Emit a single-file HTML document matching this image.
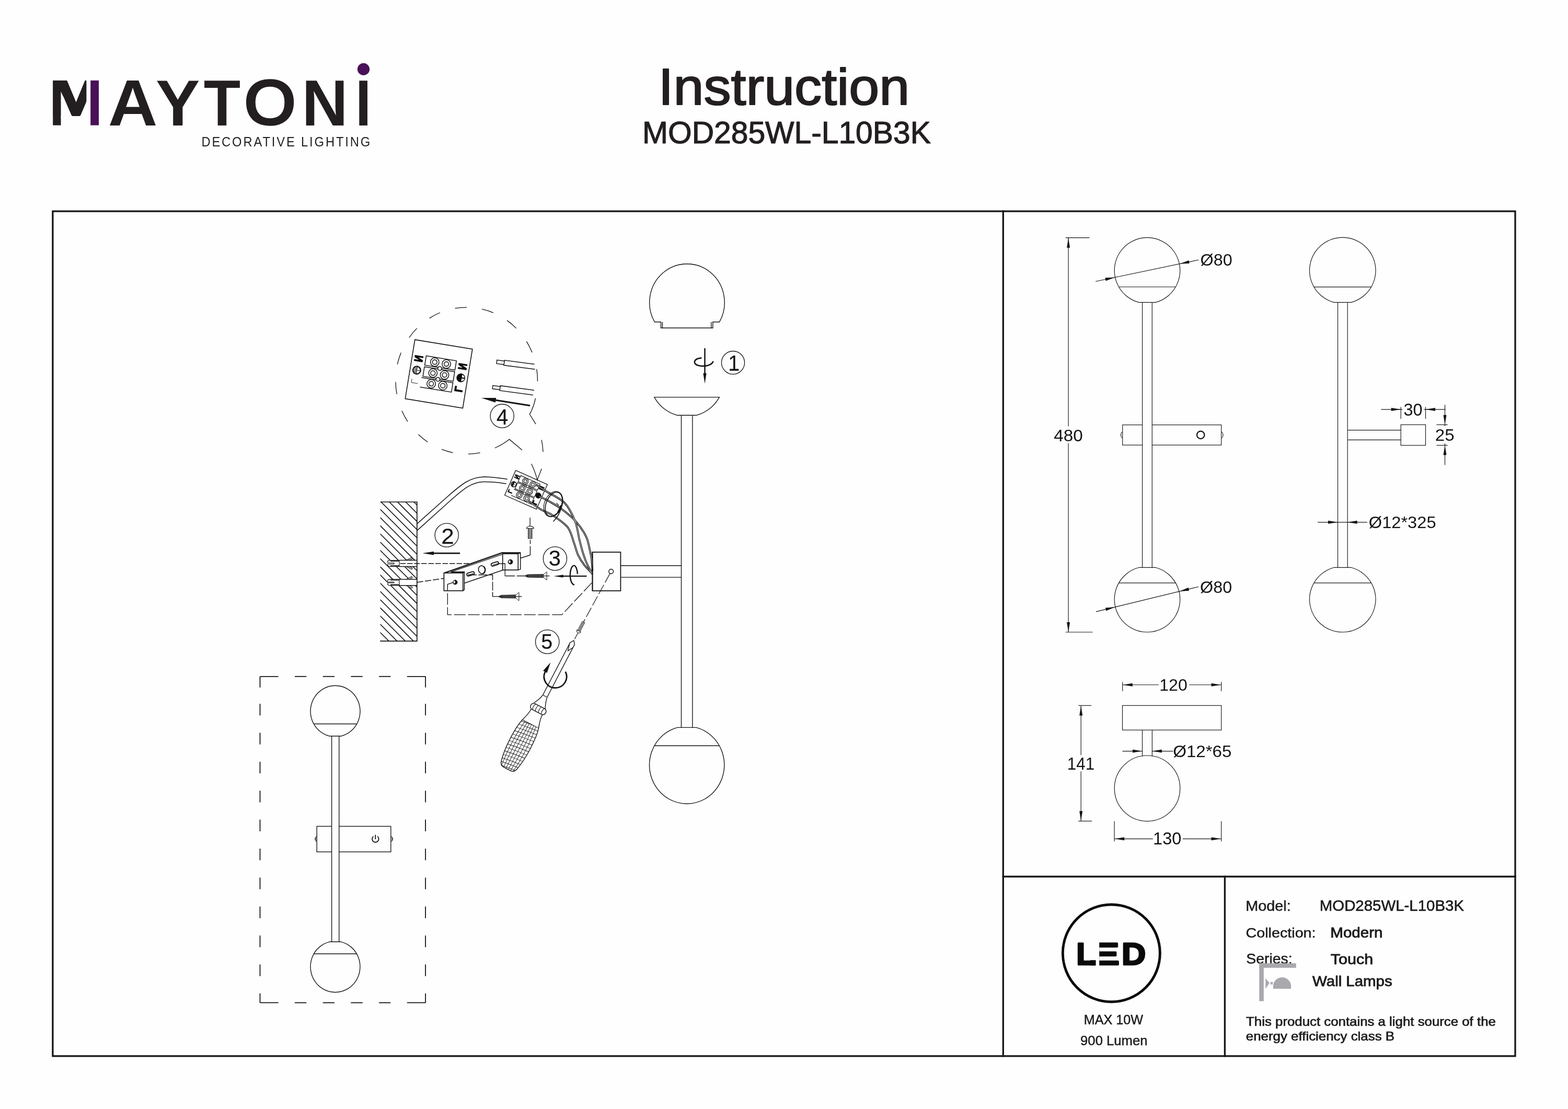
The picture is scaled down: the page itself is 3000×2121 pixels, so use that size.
<!DOCTYPE html>
<html lang="en">
<head>
<meta charset="utf-8">
<title>Instruction MOD285WL-L10B3K</title>
<style>
html,body{margin:0;padding:0;background:#fefefe;}
body{width:3000px;height:2121px;overflow:hidden;}
svg{display:block;will-change:transform;}
svg text{font-family:"Liberation Sans",sans-serif;}
.ln .ah{fill:#141414;stroke:none;}
.ln .wf{fill:#fefefe;stroke:none;}
.ln line,.ln polyline,.ln polygon:not(.ah),.ln circle,.ln rect:not(.wf),.ln path,.ln ellipse{fill:none;stroke:#141414;stroke-width:1.15;}
.lm line,.lm polyline,.lm polygon:not(.ah),.lm circle,.lm rect:not(.wf),.lm path,.lm ellipse{stroke-width:1.38;}
</style>
</head>
<body>
<svg width="3000" height="2121" viewBox="0 0 3000 2121">
<rect x="0" y="0" width="3000" height="2121" fill="#fefefe"/>
<g fill="none" stroke="#161616" stroke-width="3.3" stroke-linecap="square">
<rect x="100.9" y="404.05" width="2798.1" height="1615.75"/>
<line x1="1919.3" y1="404" x2="1919.3" y2="2019.8"/>
<line x1="1919.3" y1="1676.5" x2="2899" y2="1676.5"/>
<line x1="2343.4" y1="1676.5" x2="2343.4" y2="2019.8"/>
</g>
<g>
<text fill="#231f20" stroke="none"><tspan x="93.41" y="219.6" font-size="94.06" font-weight="bold" stroke="#231f20" stroke-width="4" stroke-linejoin="round" textLength="103.65" lengthAdjust="spacingAndGlyphs">M</tspan><tspan x="206.82" y="239.6" font-size="124.2" font-weight="bold" textLength="94.64" lengthAdjust="spacingAndGlyphs">A</tspan><tspan x="297.97" y="239.6" font-size="124.2" font-weight="bold" textLength="84.49" lengthAdjust="spacingAndGlyphs">Y</tspan><tspan x="389.85" y="240.23" font-size="125.11" font-weight="bold" textLength="70.4" lengthAdjust="spacingAndGlyphs">T</tspan><tspan x="467.98" y="237.32" font-size="118.17" font-weight="normal" stroke="#231f20" stroke-width="5.6" stroke-linejoin="round" textLength="97.21" lengthAdjust="spacingAndGlyphs">O</tspan><tspan x="577.47" y="239.6" font-size="124.2" font-weight="bold" textLength="88.13" lengthAdjust="spacingAndGlyphs">N</tspan><tspan x="680.02" y="239.6" font-size="124.2" font-weight="bold" textLength="30.28" lengthAdjust="spacingAndGlyphs">I</tspan></text>
<rect x="101.1" y="153.9" width="15.4" height="85.7" fill="#231f20"/>
<rect x="165.4" y="148" width="28" height="96" fill="#fefefe"/><rect x="96" y="148" width="5.1" height="96" fill="#fefefe"/><rect x="96" y="148" width="70" height="5.9" fill="#fefefe"/><polygon points="116.5,175 116.5,226 139.2,226" fill="#fefefe"/>
<rect x="173.2" y="153.9" width="15.8" height="85.7" fill="#4a1058"/>
<circle cx="695.5" cy="132.4" r="11.6" fill="#4a1058"/>
<text transform="matrix(0.9534 0 0 1 385.4 279.8)" font-size="24.93" letter-spacing="2.99" fill="#231f20" stroke="none">DECORATIVE LIGHTING</text>
</g>
<text transform="matrix(1.0578 0 0 1 1259.52 199.9)" font-size="98.52" fill="#231f20" stroke="#231f20" stroke-width="2.2" stroke-linejoin="round">Instruction</text>
<text transform="matrix(1.0010 0 0 1 1229 274.1)" font-size="58.7" fill="#231f20" stroke="#231f20" stroke-width="1.2" stroke-linejoin="round">MOD285WL-L10B3K</text>
<g class="ln">
<rect x="2147.7" y="812.6" width="189" height="38.6"/>
<path d="M2147.7,826.4 A3.2,5.5 0 0 0 2147.7,837.4"/>
<path d="M2336.7,826.4 A3.2,5.5 0 0 1 2336.7,837.4"/>
<circle cx="2297.2" cy="831.9" r="7.2" style="stroke-width:2.2"/>
<rect class="wf" x="2185.6" y="578.4" width="18.7" height="506.9"/>
<line x1="2185.6" y1="578.4" x2="2185.6" y2="1085.3"/>
<line x1="2204.3" y1="578.4" x2="2204.3" y2="1085.3"/>
<path d="M2179.45,578.4 A62.75,62.98 0 1 1 2210.45,578.4 Z"/>
<line x1="2140.51" y1="548.7" x2="2249.39" y2="548.7"/>
<path d="M2179.45,1085.3 A62.75,62.82 0 1 0 2210.45,1085.3 Z"/>
<line x1="2140.53" y1="1114.9" x2="2249.37" y2="1114.9"/>
<line x1="2038.8" y1="454.6" x2="2084.5" y2="454.6"/>
<line x1="2038.8" y1="1209" x2="2090.5" y2="1209"/>
<line x1="2044.1" y1="454.6" x2="2044.1" y2="815.5"/>
<line x1="2044.1" y1="847.6" x2="2044.1" y2="1209"/>
<polygon class="ah" points="2044.1,455.2 2047.1,473.7 2041.1,473.7"/>
<polygon class="ah" points="2044.1,1208.4 2041.1,1189.9 2047.1,1189.9"/>
<line x1="2096.2" y1="538.2" x2="2293.4" y2="497"/>
<polygon class="ah" points="2133.1,530.5 2115.6,537.22 2114.38,531.35"/>
<polygon class="ah" points="2257,504.6 2274.5,497.88 2275.72,503.75"/>
<line x1="2096.9" y1="1169.9" x2="2293.2" y2="1122.2"/>
<polygon class="ah" points="2133.6,1161 2116.33,1168.28 2114.91,1162.45"/>
<polygon class="ah" points="2256.4,1131.1 2273.67,1123.82 2275.09,1129.65"/>
<line x1="2559.5" y1="578.4" x2="2559.5" y2="1085.3"/>
<line x1="2578.2" y1="578.4" x2="2578.2" y2="1085.3"/>
<path d="M2552.65,578.4 A63.25,63.14 0 1 1 2584.85,578.4 Z"/>
<line x1="2513.91" y1="548.8" x2="2623.59" y2="548.8"/>
<path d="M2552.65,1085.3 A63.25,62.89 0 1 0 2584.85,1085.3 Z"/>
<line x1="2513.84" y1="1114.9" x2="2623.66" y2="1114.9"/>
<line x1="2578.2" y1="822.6" x2="2680.2" y2="822.6"/>
<line x1="2578.2" y1="841.3" x2="2680.2" y2="841.3"/>
<rect x="2680.2" y="812.3" width="47.3" height="39.4"/>
<line x1="2680.2" y1="778.3" x2="2680.2" y2="801"/>
<line x1="2727.5" y1="778.3" x2="2727.5" y2="801"/>
<line x1="2642.3" y1="783.1" x2="2683" y2="783.1"/>
<line x1="2724.4" y1="783.1" x2="2765.6" y2="783.1"/>
<polygon class="ah" points="2680.2,783.1 2661.7,786.1 2661.7,780.1"/>
<polygon class="ah" points="2727.5,783.1 2746,780.1 2746,786.1"/>
<line x1="2748.4" y1="812.3" x2="2769.7" y2="812.3"/>
<line x1="2748.4" y1="851.7" x2="2769.7" y2="851.7"/>
<line x1="2764.5" y1="774.2" x2="2764.5" y2="814.9"/>
<line x1="2764.5" y1="848.1" x2="2764.5" y2="889.4"/>
<polygon class="ah" points="2764.5,812.3 2761.5,793.8 2767.5,793.8"/>
<polygon class="ah" points="2764.5,851.7 2767.5,870.2 2761.5,870.2"/>
<line x1="2521" y1="998.8" x2="2615.9" y2="998.8"/>
<polygon class="ah" points="2559.5,998.8 2541,1001.8 2541,995.8"/>
<polygon class="ah" points="2578.2,998.8 2596.7,995.8 2596.7,1001.8"/>
<rect x="2147.5" y="1349.3" width="189.2" height="46.9"/>
<line x1="2185.5" y1="1396.2" x2="2185.5" y2="1446.5"/>
<line x1="2204.4" y1="1396.2" x2="2204.4" y2="1446.5"/>
<circle cx="2195" cy="1507.8" r="62.8"/>
<line x1="2147.7" y1="1304.3" x2="2147.7" y2="1322.1"/>
<line x1="2336.7" y1="1304.3" x2="2336.7" y2="1322.1"/>
<line x1="2147.7" y1="1309.7" x2="2216.9" y2="1309.7"/>
<line x1="2275" y1="1309.7" x2="2336.7" y2="1309.7"/>
<polygon class="ah" points="2148.3,1309.7 2166.8,1306.7 2166.8,1312.7"/>
<polygon class="ah" points="2336.1,1309.7 2317.6,1312.7 2317.6,1306.7"/>
<line x1="2063.2" y1="1349.3" x2="2088.1" y2="1349.3"/>
<line x1="2063.2" y1="1570.4" x2="2089" y2="1570.4"/>
<line x1="2068.2" y1="1349.3" x2="2068.2" y2="1444.2"/>
<line x1="2068.2" y1="1475.2" x2="2068.2" y2="1570.4"/>
<polygon class="ah" points="2068.2,1349.9 2071.2,1368.4 2065.2,1368.4"/>
<polygon class="ah" points="2068.2,1569.8 2065.2,1551.3 2071.2,1551.3"/>
<line x1="2147.5" y1="1436.6" x2="2185.5" y2="1436.6"/>
<line x1="2204.4" y1="1436.6" x2="2244.3" y2="1436.6"/>
<polygon class="ah" points="2185.5,1436.6 2167,1439.6 2167,1433.6"/>
<polygon class="ah" points="2204.4,1436.6 2222.9,1433.6 2222.9,1439.6"/>
<line x1="2132.1" y1="1570.4" x2="2132.1" y2="1609.3"/>
<line x1="2336.7" y1="1570.4" x2="2336.7" y2="1609.3"/>
<line x1="2132.1" y1="1604.3" x2="2205.8" y2="1604.3"/>
<line x1="2262.8" y1="1604.3" x2="2336.7" y2="1604.3"/>
<polygon class="ah" points="2132.7,1604.3 2151.2,1601.3 2151.2,1607.3"/>
<polygon class="ah" points="2336.1,1604.3 2317.6,1607.3 2317.6,1601.3"/>
</g>
<text transform="matrix(1.0335 0 0 1 2016.17 843.58)" font-size="32.25" fill="#141414" stroke="none">480</text>
<text transform="matrix(1.0071 0 0 1 2296.57 508.38)" font-size="32.11" fill="#141414" stroke="none">Ø80</text>
<text transform="matrix(1.0071 0 0 1 2296.07 1133.68)" font-size="32.11" fill="#141414" stroke="none">Ø80</text>
<text transform="matrix(0.9978 0 0 1 2685.4 794.57)" font-size="32.54" fill="#141414" stroke="none">30</text>
<text transform="matrix(1.0503 0 0 1 2745.84 842.88)" font-size="31.55" fill="#141414" stroke="none">25</text>
<text transform="matrix(1.0253 0 0 1 2618.76 1009.98)" font-size="31.83" fill="#141414" stroke="none">Ø12*325</text>
<text transform="matrix(0.9993 0 0 1 2218.29 1320.88)" font-size="32.11" fill="#141414" stroke="none">120</text>
<text transform="matrix(0.9198 0 0 1 2041.85 1471.6)" font-size="34.06" fill="#141414" stroke="none">141</text>
<text transform="matrix(1.0406 0 0 1 2244.14 1448.28)" font-size="31.83" fill="#141414" stroke="none">Ø12*65</text>
<text transform="matrix(1.0045 0 0 1 2206.06 1615.28)" font-size="32.39" fill="#141414" stroke="none">130</text>
<circle cx="2126.35" cy="1823" r="93" fill="none" stroke="#0a0a0a" stroke-width="4.9"/>
<text fill="#0a0a0a" stroke="none"><tspan x="2059.25" y="1845.4" font-size="60" font-weight="bold" stroke="#0a0a0a" stroke-width="3" stroke-linejoin="round" textLength="37.13" lengthAdjust="spacingAndGlyphs">L</tspan><tspan x="2082.03" y="1845.4" font-size="60" font-weight="bold" stroke="#0a0a0a" stroke-width="3" stroke-linejoin="round" textLength="60.21" lengthAdjust="spacingAndGlyphs">E</tspan><tspan x="2146.14" y="1845.4" font-size="60" font-weight="bold" stroke="#0a0a0a" stroke-width="3" stroke-linejoin="round" textLength="46.27" lengthAdjust="spacingAndGlyphs">D</tspan></text>
<rect x="2076.5" y="1799" width="26.7" height="37.3" fill="#fefefe"/>
<rect x="2096.6" y="1835" width="6.6" height="15" fill="#fefefe"/>
<text transform="matrix(0.9997 0 0 1 2073.73 1958.55)" font-size="25.22" fill="#1c1c1c" stroke="#1c1c1c" stroke-width="0.5" stroke-linejoin="round">MAX 10W</text>
<text transform="matrix(1.0067 0 0 1 2067.09 1998.75)" font-size="25.51" fill="#1c1c1c" stroke="#1c1c1c" stroke-width="0.5" stroke-linejoin="round">900 Lumen</text>
<text transform="matrix(1.0309 0 0 1 2383.24 1742.25)" font-size="27.97" fill="#1c1c1c" stroke="#1c1c1c" stroke-width="0.5" stroke-linejoin="round">Model:</text>
<text transform="matrix(1.0201 0 0 1 2524.75 1742.3)" font-size="28.84" fill="#1c1c1c" stroke="#1c1c1c" stroke-width="0.6" stroke-linejoin="round">MOD285WL-L10B3K</text>
<text transform="matrix(1.0845 0 0 1 2383.51 1792.65)" font-size="26.48" fill="#1c1c1c" stroke="#1c1c1c" stroke-width="0.5" stroke-linejoin="round">Collection:</text>
<text transform="matrix(1.0610 0 0 1 2545.29 1793.35)" font-size="27.83" fill="#1c1c1c" stroke="#1c1c1c" stroke-width="0.9" stroke-linejoin="round">Modern</text>
<text transform="matrix(1.0173 0 0 1 2384.27 1843.27)" font-size="27.89" fill="#1c1c1c" stroke="#1c1c1c" stroke-width="0.5" stroke-linejoin="round">Series:</text>
<text transform="matrix(1.1034 0 0 1 2545.79 1843.55)" font-size="27.68" fill="#1c1c1c" stroke="#1c1c1c" stroke-width="0.9" stroke-linejoin="round">Touch</text>
<text transform="matrix(1.0466 0 0 1 2511.1 1886.45)" font-size="28.12" fill="#1c1c1c" stroke="#1c1c1c" stroke-width="0.9" stroke-linejoin="round">Wall Lamps</text>
<text transform="matrix(1.0797 0 0 1 2384.1 1961.65)" font-size="23.91" fill="#1c1c1c" stroke="#1c1c1c" stroke-width="0.7" stroke-linejoin="round">This product contains a light source of the</text>
<text transform="matrix(1.0829 0 0 1 2383.78 1989.95)" font-size="23.91" fill="#1c1c1c" stroke="#1c1c1c" stroke-width="0.7" stroke-linejoin="round">energy efficiency class B</text>
<g fill="#a8a8ad"><rect x="2409.3" y="1842.3" width="8.5" height="72.4"/><rect x="2409.3" y="1842.3" width="70.5" height="8.6"/><path d="M2435.9,1890.9 L2435.9,1886.4 A17.1,17.1 0 0 1 2470.1,1886.4 L2470.1,1890.9 Z"/><polygon points="2421.3,1870.8 2428.8,1880.2 2421.3,1890.9"/><rect x="2430.9" y="1878.1" width="4.3" height="4.6"/></g>
<g class="ln lm">
<g stroke-width="1.8" style="stroke-width:1.8">
<line x1="497.5" y1="1293.8" x2="532.5" y2="1293.8" style="stroke-width:1.8"/>
<line x1="564" y1="1293.8" x2="586.3" y2="1293.8" style="stroke-width:1.8"/>
<line x1="617.7" y1="1293.8" x2="640" y2="1293.8" style="stroke-width:1.8"/>
<line x1="671.4" y1="1293.8" x2="693.7" y2="1293.8" style="stroke-width:1.8"/>
<line x1="725.1" y1="1293.8" x2="747.4" y2="1293.8" style="stroke-width:1.8"/>
<line x1="778.8" y1="1293.8" x2="814.1" y2="1293.8" style="stroke-width:1.8"/>
<line x1="497.5" y1="1917.7" x2="532.5" y2="1917.7" style="stroke-width:1.8"/>
<line x1="564" y1="1917.7" x2="586.3" y2="1917.7" style="stroke-width:1.8"/>
<line x1="617.7" y1="1917.7" x2="640" y2="1917.7" style="stroke-width:1.8"/>
<line x1="671.4" y1="1917.7" x2="693.7" y2="1917.7" style="stroke-width:1.8"/>
<line x1="725.1" y1="1917.7" x2="747.4" y2="1917.7" style="stroke-width:1.8"/>
<line x1="778.8" y1="1917.7" x2="814.1" y2="1917.7" style="stroke-width:1.8"/>
<line x1="497.5" y1="1293.8" x2="497.5" y2="1314.8" style="stroke-width:1.8"/>
<line x1="497.5" y1="1346" x2="497.5" y2="1368.3" style="stroke-width:1.8"/>
<line x1="497.5" y1="1401.4" x2="497.5" y2="1423.7" style="stroke-width:1.8"/>
<line x1="497.5" y1="1456.8" x2="497.5" y2="1479.1" style="stroke-width:1.8"/>
<line x1="497.5" y1="1512.2" x2="497.5" y2="1534.5" style="stroke-width:1.8"/>
<line x1="497.5" y1="1567.6" x2="497.5" y2="1589.9" style="stroke-width:1.8"/>
<line x1="497.5" y1="1623" x2="497.5" y2="1645.3" style="stroke-width:1.8"/>
<line x1="497.5" y1="1678.4" x2="497.5" y2="1700.7" style="stroke-width:1.8"/>
<line x1="497.5" y1="1733.8" x2="497.5" y2="1756.1" style="stroke-width:1.8"/>
<line x1="497.5" y1="1789.2" x2="497.5" y2="1811.5" style="stroke-width:1.8"/>
<line x1="497.5" y1="1844.6" x2="497.5" y2="1866.9" style="stroke-width:1.8"/>
<line x1="497.5" y1="1900" x2="497.5" y2="1917.7" style="stroke-width:1.8"/>
<line x1="814.1" y1="1293.8" x2="814.1" y2="1314.8" style="stroke-width:1.8"/>
<line x1="814.1" y1="1346" x2="814.1" y2="1368.3" style="stroke-width:1.8"/>
<line x1="814.1" y1="1401.4" x2="814.1" y2="1423.7" style="stroke-width:1.8"/>
<line x1="814.1" y1="1456.8" x2="814.1" y2="1479.1" style="stroke-width:1.8"/>
<line x1="814.1" y1="1512.2" x2="814.1" y2="1534.5" style="stroke-width:1.8"/>
<line x1="814.1" y1="1567.6" x2="814.1" y2="1589.9" style="stroke-width:1.8"/>
<line x1="814.1" y1="1623" x2="814.1" y2="1645.3" style="stroke-width:1.8"/>
<line x1="814.1" y1="1678.4" x2="814.1" y2="1700.7" style="stroke-width:1.8"/>
<line x1="814.1" y1="1733.8" x2="814.1" y2="1756.1" style="stroke-width:1.8"/>
<line x1="814.1" y1="1789.2" x2="814.1" y2="1811.5" style="stroke-width:1.8"/>
<line x1="814.1" y1="1844.6" x2="814.1" y2="1866.9" style="stroke-width:1.8"/>
<line x1="814.1" y1="1900" x2="814.1" y2="1917.7" style="stroke-width:1.8"/>
</g>
<rect x="606.2" y="1580.4" width="141.6" height="48.9"/>
<path d="M606.2,1600.3 A3.2,4.3 0 0 0 606.2,1608.9"/>
<path d="M748.1,1600.3 A3.2,4.3 0 0 1 748.1,1608.9"/>
<circle cx="604.3" cy="1604.6" r="1" style="fill:#222;stroke:none"/><circle cx="750" cy="1604.6" r="1" style="fill:#222;stroke:none"/>
<rect class="wf" x="634.6" y="1407.7" width="14.1" height="393.6"/>
<line x1="634.6" y1="1407.7" x2="634.6" y2="1801.3"/>
<line x1="648.7" y1="1407.7" x2="648.7" y2="1801.3"/>
<path d="M629.65,1407.7 A47.5,48.97 0 1 1 653.35,1407.7 Z"/>
<line x1="600.22" y1="1384.5" x2="682.78" y2="1384.5"/>
<path d="M630.35,1801.3 A47.45,48.88 0 1 0 652.55,1801.3 Z"/>
<line x1="600.46" y1="1824.2" x2="682.44" y2="1824.2"/>
<path d="M714.3,1599.6 A6.3,6.3 0 1 0 722.3,1599.6" style="stroke-width:1.8"/>
<line x1="718.3" y1="1596.5" x2="718.3" y2="1605" style="stroke-width:1.8"/>
</g>
<g class="ln lm">
<path d="M1252.4,615.7 A71.75,73.9 0 1 1 1376.5,615.7 L1363.8,615.7 L1363.8,627.2 L1264.5,627.2 L1264.5,615.7 Z"/>
<line x1="1267.4" y1="616" x2="1267.4" y2="627"/>
<line x1="1360.8" y1="616" x2="1360.8" y2="627"/>
<path d="M1251.9,759.6 L1376.3,759.6 A70.7,70.7 0 0 1 1332.1,794.3 L1296.1,794.3 A70.7,70.7 0 0 1 1251.9,759.6 Z"/>
<line x1="1303.5" y1="794.3" x2="1303.5" y2="1391.4"/>
<line x1="1324.9" y1="794.3" x2="1324.9" y2="1391.4"/>
<path d="M1296.05,1391.4 A71.65,74.1 0 1 0 1332.25,1391.4 Z"/>
<line x1="1251.96" y1="1426.3" x2="1376.34" y2="1426.3"/>
<line x1="1348.5" y1="666" x2="1348.5" y2="716" style="stroke-width:2.5"/>
<polygon class="ah" points="1348.5,733.7 1345.4,713.7 1351.6,713.7"/>
<path d="M1341.4,684.6 C1326.5,686 1324.5,696.5 1337,699.3 C1349,701.8 1361.5,698.5 1364.3,691.8" style="stroke-width:2.6" stroke-linecap="round"/>
<circle cx="1402.5" cy="693.6" r="22.1" style="stroke-width:1.3"/>
<clipPath id="wallclip"><rect x="727.6" y="960.0" width="70.2" height="266.1"/></clipPath>
<g clip-path="url(#wallclip)" style="stroke-width:1.6">
<line x1="725.6" y1="878" x2="799.8" y2="952.2" style="stroke-width:1.6"/>
<line x1="725.6" y1="893.7" x2="799.8" y2="967.9" style="stroke-width:1.6"/>
<line x1="725.6" y1="909.4" x2="799.8" y2="983.6" style="stroke-width:1.6"/>
<line x1="725.6" y1="925.1" x2="799.8" y2="999.3" style="stroke-width:1.6"/>
<line x1="725.6" y1="940.8" x2="799.8" y2="1015" style="stroke-width:1.6"/>
<line x1="725.6" y1="956.5" x2="799.8" y2="1030.7" style="stroke-width:1.6"/>
<line x1="725.6" y1="972.2" x2="799.8" y2="1046.4" style="stroke-width:1.6"/>
<line x1="725.6" y1="987.9" x2="799.8" y2="1062.1" style="stroke-width:1.6"/>
<line x1="725.6" y1="1003.6" x2="799.8" y2="1077.8" style="stroke-width:1.6"/>
<line x1="725.6" y1="1019.3" x2="799.8" y2="1093.5" style="stroke-width:1.6"/>
<line x1="725.6" y1="1035" x2="799.8" y2="1109.2" style="stroke-width:1.6"/>
<line x1="725.6" y1="1050.7" x2="799.8" y2="1124.9" style="stroke-width:1.6"/>
<line x1="725.6" y1="1066.4" x2="799.8" y2="1140.6" style="stroke-width:1.6"/>
<line x1="725.6" y1="1082.1" x2="799.8" y2="1156.3" style="stroke-width:1.6"/>
<line x1="725.6" y1="1097.8" x2="799.8" y2="1172" style="stroke-width:1.6"/>
<line x1="725.6" y1="1113.5" x2="799.8" y2="1187.7" style="stroke-width:1.6"/>
<line x1="725.6" y1="1129.2" x2="799.8" y2="1203.4" style="stroke-width:1.6"/>
<line x1="725.6" y1="1144.9" x2="799.8" y2="1219.1" style="stroke-width:1.6"/>
<line x1="725.6" y1="1160.6" x2="799.8" y2="1234.8" style="stroke-width:1.6"/>
<line x1="725.6" y1="1176.3" x2="799.8" y2="1250.5" style="stroke-width:1.6"/>
<line x1="725.6" y1="1192" x2="799.8" y2="1266.2" style="stroke-width:1.6"/>
<line x1="725.6" y1="1207.7" x2="799.8" y2="1281.9" style="stroke-width:1.6"/>
<line x1="725.6" y1="1223.4" x2="799.8" y2="1297.6" style="stroke-width:1.6"/>
<line x1="725.6" y1="1239.1" x2="799.8" y2="1313.3" style="stroke-width:1.6"/>
</g>
<path class="wf" d="M745,1071.6 L797.8,1071.6 L797.8,1083.4 L745,1083.4 Q741,1077.6 745,1071.6 Z"/>
<path d="M777.5,1071.6 L787.5,1066.4 Q789.5,1066.8 788.5,1069 L782.5,1071.6" style="fill:#fefefe;stroke-width:1.1"/>
<path d="M777.5,1083.4 L787.5,1088.6 Q789.5,1088.2 788.5,1086 L782.5,1083.4" style="fill:#fefefe;stroke-width:1.1"/>
<line x1="764" y1="1071.6" x2="797.8" y2="1071.6" style="stroke-width:1.5"/>
<line x1="764" y1="1083.4" x2="797.8" y2="1083.4" style="stroke-width:1.5"/>
<line x1="764" y1="1071.6" x2="764" y2="1083.4" style="stroke-width:1.2"/>
<path d="M764,1071.6 L762.7,1071.6 L762.7,1073.4 L761.1,1073.4 L761.1,1071.6 L759.4,1071.6 L759.4,1073.4 L757.8,1073.4 L757.8,1071.6 L756.1,1071.6 L756.1,1073.4 L754.5,1073.4 L754.5,1071.6 L752.8,1071.6 L752.8,1073.4 L751.2,1073.4 L751.2,1071.6 L749.5,1071.6 L749.5,1073.4 L747.9,1073.4 L747.9,1071.6 L745.5,1071.6 Q741.2,1072.1 741.4,1075.6 " style="stroke-width:1.3"/>
<path d="M764,1083.4 L762.7,1083.4 L762.7,1081.6 L761.1,1081.6 L761.1,1083.4 L759.4,1083.4 L759.4,1081.6 L757.8,1081.6 L757.8,1083.4 L756.1,1083.4 L756.1,1081.6 L754.5,1081.6 L754.5,1083.4 L752.8,1083.4 L752.8,1081.6 L751.2,1081.6 L751.2,1083.4 L749.5,1083.4 L749.5,1081.6 L747.9,1081.6 L747.9,1083.4 L745.5,1083.4 Q741.2,1082.9 741.4,1079.6 " style="stroke-width:1.3"/>
<path d="M741.4,1076.2 L754,1076.2 L754,1078.6 L741.4,1078.6" style="stroke-width:1.1"/>
<path class="wf" d="M745,1107.9 L797.8,1107.9 L797.8,1119.7 L745,1119.7 Q741,1113.9 745,1107.9 Z"/>
<path d="M777.5,1107.9 L787.5,1102.7 Q789.5,1103.1 788.5,1105.3 L782.5,1107.9" style="fill:#fefefe;stroke-width:1.1"/>
<path d="M777.5,1119.7 L787.5,1124.9 Q789.5,1124.5 788.5,1122.3 L782.5,1119.7" style="fill:#fefefe;stroke-width:1.1"/>
<line x1="764" y1="1107.9" x2="797.8" y2="1107.9" style="stroke-width:1.5"/>
<line x1="764" y1="1119.7" x2="797.8" y2="1119.7" style="stroke-width:1.5"/>
<line x1="764" y1="1107.9" x2="764" y2="1119.7" style="stroke-width:1.2"/>
<path d="M764,1107.9 L762.7,1107.9 L762.7,1109.7 L761.1,1109.7 L761.1,1107.9 L759.4,1107.9 L759.4,1109.7 L757.8,1109.7 L757.8,1107.9 L756.1,1107.9 L756.1,1109.7 L754.5,1109.7 L754.5,1107.9 L752.8,1107.9 L752.8,1109.7 L751.2,1109.7 L751.2,1107.9 L749.5,1107.9 L749.5,1109.7 L747.9,1109.7 L747.9,1107.9 L745.5,1107.9 Q741.2,1108.4 741.4,1111.9 " style="stroke-width:1.3"/>
<path d="M764,1119.7 L762.7,1119.7 L762.7,1117.9 L761.1,1117.9 L761.1,1119.7 L759.4,1119.7 L759.4,1117.9 L757.8,1117.9 L757.8,1119.7 L756.1,1119.7 L756.1,1117.9 L754.5,1117.9 L754.5,1119.7 L752.8,1119.7 L752.8,1117.9 L751.2,1117.9 L751.2,1119.7 L749.5,1119.7 L749.5,1117.9 L747.9,1117.9 L747.9,1119.7 L745.5,1119.7 Q741.2,1119.2 741.4,1115.9 " style="stroke-width:1.3"/>
<rect x="742" y="1112.4" width="12.6" height="3" style="fill:#555;stroke:none"/>
<polyline points="727.6,960 797.8,960 797.8,1226.1 727.6,1226.1" style="stroke-width:1.7"/>
<line x1="765.5" y1="1077.8" x2="903" y2="1077.8" style="stroke-width:1.5" stroke-dasharray="10.5 3"/>
<line x1="797.8" y1="1113.7" x2="849.4" y2="1106.1" style="stroke-width:1.5" stroke-dasharray="12 3.4"/>
<path d="M797.8,1001.9 L856,950 C884,925 900,913 925,912 C945,912 958,914.5 970.7,916.5" style="stroke-width:1.5"/>
<path d="M797.8,1014.9 L861,958 C888,934 902,922.5 925,921.5 C945,921 958,923.5 968.7,925.2" style="stroke-width:1.5"/>
<circle cx="854.7" cy="1023.5" r="22.6" style="stroke-width:1.3"/>
<line x1="829" y1="1058.1" x2="880.1" y2="1058.1" style="stroke-width:2.6"/>
<polygon class="ah" points="808.4,1058.1 829.9,1054.7 829.9,1061.5"/>
<path d="M849.4,1095.8 L959.8,1057.1 L995.7,1057.4" style="stroke-width:1.8"/>
<line x1="853" y1="1095.6" x2="960.5" y2="1058.6" style="stroke-width:1.0"/>
<line x1="862.5" y1="1093.9" x2="961.7" y2="1060.2" style="stroke-width:1.2"/>
<line x1="888.5" y1="1115.3" x2="961.7" y2="1090.6" style="stroke-width:1.6"/>
<rect class="wf" x="849.4" y="1095.8" width="36.4" height="34"/>
<rect x="849.4" y="1095.8" width="36.4" height="34" style="stroke-width:1.7"/>
<path d="M885.8,1095.8 L888.5,1093.9 L888.5,1127.6 L885.8,1129.8" style="stroke-width:1.5"/>
<line x1="862.5" y1="1093.9" x2="888.5" y2="1093.9" style="stroke-width:2.0"/>
<rect class="wf" x="961.7" y="1059.1" width="29.6" height="31"/>
<rect x="961.7" y="1059.1" width="29.6" height="31" style="stroke-width:1.7"/>
<path d="M991.3,1059.1 L995.7,1057.4 L995.7,1088.6 L991.3,1090.1" style="stroke-width:1.5"/>
<line x1="959.8" y1="1057.3" x2="995.7" y2="1057.3" style="stroke-width:2.2"/>
<circle cx="870.8" cy="1113.6" r="4.2" style="fill:#0c0c0c;stroke:#0c0c0c;stroke-width:1"/>
<ellipse cx="869.3" cy="1113.2" rx="1.7" ry="2.7" style="fill:#fefefe;stroke:none"/>
<circle cx="976.5" cy="1074.6" r="4.4" style="fill:#0c0c0c;stroke:#0c0c0c;stroke-width:1"/>
<ellipse cx="975" cy="1074.2" rx="1.7" ry="2.7" style="fill:#fefefe;stroke:none"/>
<rect x="892.9" y="1094.7" width="14.8" height="5.6" rx="2.8" transform="rotate(-17 900.3 1097.5)" style="stroke-width:1.8"/>
<line x1="895.3" y1="1098.5" x2="905.8" y2="1098.5" transform="rotate(-17 900.3 1097.5)" style="stroke-width:1"/>
<rect x="939.5" y="1075.7" width="14.8" height="5.6" rx="2.8" transform="rotate(-17 946.9 1078.5)" style="stroke-width:1.8"/>
<line x1="941.9" y1="1079.5" x2="952.4" y2="1079.5" transform="rotate(-17 946.9 1078.5)" style="stroke-width:1"/>
<ellipse cx="921.8" cy="1089.6" rx="6.3" ry="7.8" transform="rotate(-12 921.8 1089.6)" style="stroke-width:1.6"/>
<path d="M925.5,1083.5 A6.3,7.8 -12 0 1 923.5,1097" style="stroke-width:2.4"/>
<path d="M866.4,1114.2 L856.3,1117.5 L856.3,1129.8" style="stroke-width:1.4"/>
<path d="M856.3,1134.5 L856.3,1175.7 L1075.1,1175.7 L1133.5,1113.3" style="stroke-width:1.3" stroke-dasharray="22 4.8"/>
<path d="M952.4,1078 L966.2,1078 L966.2,1101.5" style="stroke-width:1.3"/>
<line x1="966.2" y1="1101.5" x2="1004" y2="1101.5" style="stroke-width:1.5" stroke-dasharray="19 3.5"/>
<path d="M895,1099.5 L942.5,1099.5 L942.5,1135" style="stroke-width:1.4" stroke-dasharray="17 3.2"/>
<path d="M942.5,1133 L942.5,1140.9 L954,1140.9" style="stroke-width:1.4"/>
<line x1="995.7" y1="1067.5" x2="1014.5" y2="1061.5" style="stroke-width:1.4"/>
<line x1="1014.5" y1="1061.5" x2="1014.5" y2="1030" style="stroke-width:1.4" stroke-dasharray="17 4 8 4"/>
<path d="M953.4,1140.9 L959.4,1138.3 L986.9,1137.7 L986.9,1144.1 L959.4,1143.5 Z" style="fill:#2a2a2a;stroke:#111;stroke-width:0.8"/>
<line x1="960.4" y1="1138.7" x2="986.9" y2="1138.7" style="stroke:#777;stroke-width:0.35"/>
<line x1="960.4" y1="1139.8" x2="986.9" y2="1139.8" style="stroke:#777;stroke-width:0.35"/>
<line x1="960.4" y1="1140.9" x2="986.9" y2="1140.9" style="stroke:#777;stroke-width:0.35"/>
<line x1="960.4" y1="1142" x2="986.9" y2="1142" style="stroke:#777;stroke-width:0.35"/>
<line x1="960.4" y1="1143.1" x2="986.9" y2="1143.1" style="stroke:#777;stroke-width:0.35"/>
<path d="M986.9,1138.3 L992.1,1133.3 L992.9,1133.3 L992.9,1148.5 L992.1,1148.5 L986.9,1143.5" style="fill:#fefefe;stroke-width:1"/>
<line x1="984.9" y1="1140.9" x2="998.4" y2="1140.9" style="stroke-width:1.3"/>
<path d="M1003.6,1101.5 L1009.6,1098.9 L1040.1,1098.3 L1040.1,1104.7 L1009.6,1104.1 Z" style="fill:#2a2a2a;stroke:#111;stroke-width:0.8"/>
<line x1="1010.6" y1="1099.3" x2="1040.1" y2="1099.3" style="stroke:#777;stroke-width:0.35"/>
<line x1="1010.6" y1="1100.4" x2="1040.1" y2="1100.4" style="stroke:#777;stroke-width:0.35"/>
<line x1="1010.6" y1="1101.5" x2="1040.1" y2="1101.5" style="stroke:#777;stroke-width:0.35"/>
<line x1="1010.6" y1="1102.6" x2="1040.1" y2="1102.6" style="stroke:#777;stroke-width:0.35"/>
<line x1="1010.6" y1="1103.7" x2="1040.1" y2="1103.7" style="stroke:#777;stroke-width:0.35"/>
<path d="M1040.1,1098.9 L1045.3,1093.9 L1046.1,1093.9 L1046.1,1109.1 L1045.3,1109.1 L1040.1,1104.1" style="fill:#fefefe;stroke-width:1"/>
<line x1="1038.1" y1="1101.5" x2="1051.6" y2="1101.5" style="stroke-width:1.3"/>
<line x1="1014.1" y1="990" x2="1014.1" y2="1007" style="stroke-width:1.3"/>
<path d="M1007.3,1010.5 Q1008.5,1006.2 1014.1,1006.2 Q1019.8,1006.2 1021.4,1010.5 Z" style="stroke-width:1.1"/>
<rect x="1010.4" y="1010.5" width="7.6" height="19.4" style="fill:#fefefe;stroke-width:0.9"/>
<line x1="1010.4" y1="1012" x2="1018" y2="1012" style="stroke-width:0.7"/>
<line x1="1010.4" y1="1013.7" x2="1018" y2="1013.7" style="stroke-width:0.7"/>
<line x1="1010.4" y1="1015.4" x2="1018" y2="1015.4" style="stroke-width:0.7"/>
<line x1="1010.4" y1="1017.1" x2="1018" y2="1017.1" style="stroke-width:0.7"/>
<line x1="1010.4" y1="1018.8" x2="1018" y2="1018.8" style="stroke-width:0.7"/>
<line x1="1010.4" y1="1020.5" x2="1018" y2="1020.5" style="stroke-width:0.7"/>
<line x1="1010.4" y1="1022.2" x2="1018" y2="1022.2" style="stroke-width:0.7"/>
<line x1="1010.4" y1="1023.9" x2="1018" y2="1023.9" style="stroke-width:0.7"/>
<line x1="1010.4" y1="1025.6" x2="1018" y2="1025.6" style="stroke-width:0.7"/>
<line x1="1010.4" y1="1027.3" x2="1018" y2="1027.3" style="stroke-width:0.7"/>
<line x1="1010.4" y1="1029" x2="1018" y2="1029" style="stroke-width:0.7"/>
<line x1="1012.3" y1="1010.5" x2="1012.3" y2="1029.9" style="stroke-width:0.6"/>
<line x1="1016.1" y1="1010.5" x2="1016.1" y2="1029.9" style="stroke-width:0.6"/>
<rect x="1133.5" y="1056" width="53.9" height="73.9" style="stroke-width:1.8"/>
<line x1="1187.4" y1="1081.8" x2="1303.5" y2="1081.8"/>
<line x1="1187.4" y1="1104.1" x2="1303.5" y2="1104.1"/>
<circle cx="1169.2" cy="1092.9" r="4.3" style="stroke-width:1.5"/>
<circle cx="1061.9" cy="1068.2" r="22.6" style="stroke-width:1.3"/>
<line x1="1076" y1="1101.9" x2="1122.5" y2="1101.9" style="stroke-width:2.4"/>
<polygon class="ah" points="1059.2,1101.9 1077.7,1099.2 1077.7,1104.6"/>
<path d="M1104.9,1096.9 C1104.5,1088 1101,1081.6 1098.3,1081.6 C1094,1081.6 1090.8,1090 1090.8,1100 C1090.8,1109.5 1093.8,1117 1098.1,1118.3" style="stroke-width:2.4" stroke-linecap="round"/>
<line x1="1167.2" y1="1096.6" x2="1114.5" y2="1193" style="stroke-width:1.2" stroke-dasharray="20 5"/>
</g>
<text transform="matrix(0.9138 0 0 1 1393.37 708.6)" font-size="42.75" fill="#141414" stroke="#141414" stroke-width="0.2" stroke-linejoin="round">1</text>
<text transform="matrix(1.0412 0 0 1 844.29 1039.7)" font-size="42.43" fill="#141414" stroke="#141414" stroke-width="0.2" stroke-linejoin="round">2</text>
<text transform="matrix(0.9772 0 0 1 1049.63 1081.97)" font-size="42.68" fill="#141414" stroke="#141414" stroke-width="0.2" stroke-linejoin="round">3</text>
<g class="ln lm">
<path d="M870.52,589.68 A135.8,140.3 0 0 1 893.17,587.8 M922.09,591.13 A135.8,140.3 0 0 1 943.79,598.11 M970.2,612.89 A135.8,140.3 0 0 1 987.71,627.86 M1007.49,653.13 A135.8,140.3 0 0 1 1017.98,673.96 M1026.79,705.91 A135.8,140.3 0 0 1 1028.49,729.32 M918.61,865.82 A135.8,140.3 0 0 1 896.02,868.36 M866.79,865.82 A135.8,140.3 0 0 1 844.92,859.43 M818.34,845.5 A135.8,140.3 0 0 1 800.43,831.04 M779.98,806.35 A135.8,140.3 0 0 1 768.93,785.84 M759.22,753.91 A135.8,140.3 0 0 1 756.92,730.55 M760.33,696.78 A135.8,140.3 0 0 1 767.24,674.41 M782.84,645.63 A135.8,140.3 0 0 1 797.69,627.86 M821.54,608.6 A135.8,140.3 0 0 1 841.83,598.02 M946.85,856.76 A135.8,140.3 0 0 0 974.43,840.15 L998.9,860.8 M1024.6,761.6 Q1021,779 1013.3,792.1 L1025.1,811.1 M1036.1,841.3 Q1038.6,852 1039,864.2 M1016.7,887 Q1023.5,901 1028,918 L1036.2,896.4 " style="stroke-width:1.3"/>
<path d="M964.9,690.4 L950.8,688.5 L950.1,695.4 L963.9,697.2" style="stroke-width:1.5"/>
<path d="M1022.5,696.6 L965.4,689.1 L963.9,698.5 L1023.6,706.3" style="stroke-width:1.5"/>
<path d="M957.1,739.3 L942.9,737.3 L942.2,743.5 L956,745.3" style="stroke-width:1.5"/>
<path d="M1022,746.4 L957.4,737.7 L956,746.9 L1019.9,755.5" style="stroke-width:1.5"/>
<line x1="1014.1" y1="775.7" x2="945" y2="764.8" style="stroke-width:3"/>
<polygon class="ah" points="920.9,761 949.24,761.02 947.87,769.71"/>
<circle cx="960.7" cy="795.6" r="22.6" style="stroke-width:1.3"/>
<g transform="translate(839.58 715.05) rotate(9.3) scale(1.0000 1.0000)">
<rect x="-55.75" y="-57.2" width="111.5" height="114.4" style="stroke-width:1.6" vector-effect="non-scaling-stroke"/>
<rect x="-29.3" y="-30.1" width="58.5" height="18" style="stroke-width:1.5" vector-effect="non-scaling-stroke"/>
<rect x="-29.3" y="-9" width="58.6" height="18.5" style="stroke-width:1.5" vector-effect="non-scaling-stroke"/>
<path d="M-31.5,12.3 L29.4,12.3 L29.4,30.6 L-31.5,30.6" style="stroke-width:1.5" vector-effect="non-scaling-stroke"/>
<circle cx="-11.3" cy="-21" r="8.2" style="fill:#fefefe;stroke-width:1.5" vector-effect="non-scaling-stroke"/>
<circle cx="-11.3" cy="-21" r="4.4" style="stroke-width:1.5" vector-effect="non-scaling-stroke"/>
<circle cx="11.2" cy="-21" r="8.2" style="fill:#fefefe;stroke-width:1.5" vector-effect="non-scaling-stroke"/>
<circle cx="11.2" cy="-21" r="4.4" style="stroke-width:1.5" vector-effect="non-scaling-stroke"/>
<circle cx="-11.3" cy="0.3" r="8.2" style="fill:#fefefe;stroke-width:1.5" vector-effect="non-scaling-stroke"/>
<circle cx="-11.3" cy="0.3" r="4.4" style="stroke-width:1.5" vector-effect="non-scaling-stroke"/>
<circle cx="11.2" cy="0.3" r="8.2" style="fill:#fefefe;stroke-width:1.5" vector-effect="non-scaling-stroke"/>
<circle cx="11.2" cy="0.3" r="4.4" style="stroke-width:1.5" vector-effect="non-scaling-stroke"/>
<circle cx="-11.3" cy="21" r="8.2" style="fill:#fefefe;stroke-width:1.5" vector-effect="non-scaling-stroke"/>
<circle cx="-11.3" cy="21" r="4.4" style="stroke-width:1.5" vector-effect="non-scaling-stroke"/>
<circle cx="11.2" cy="21" r="8.2" style="fill:#fefefe;stroke-width:1.5" vector-effect="non-scaling-stroke"/>
<circle cx="11.2" cy="21" r="4.4" style="stroke-width:1.5" vector-effect="non-scaling-stroke"/>
<circle cx="0" cy="-10.5" r="3.7" style="fill:#fefefe;stroke-width:1.5" vector-effect="non-scaling-stroke"/>
<circle cx="0" cy="10.5" r="3.7" style="fill:#fefefe;stroke-width:1.5" vector-effect="non-scaling-stroke"/>
<circle cx="-42.8" cy="-0.2" r="7.3" style="fill:#fefefe;stroke-width:2.4" vector-effect="non-scaling-stroke"/>
<path d="M-42.8,-7 A7,7 0 0 0 -42.8,6.6 Z" style="fill:#8a8a8a;stroke:none"/>
<path d="M-42.8,-7.3 L-42.8,7 M-42.8,-0.2 L-35.8,-0.2" style="stroke-width:1.0" vector-effect="non-scaling-stroke"/>
<circle cx="42.8" cy="0.7" r="7.6" style="fill:#0c0c0c;stroke-width:1.6" vector-effect="non-scaling-stroke"/>
<path d="M44.5,-0.6 L44.5,-5.6 A6.4,6.4 0 0 1 49.6,-0.6 Z" style="fill:#fefefe;stroke:none"/>
<path d="M44.5,1.6 L49.7,1.6 A6.4,6.4 0 0 1 44.5,6.9 Z" style="fill:#fefefe;stroke:none"/>
<path d="M-49.2,17.6 L-49.2,24.8 L-36.8,24.8" style="stroke-width:0.9" vector-effect="non-scaling-stroke"/>
</g>
</g>
<text transform="translate(839.58 715.05) rotate(9.3) scale(1.0000 1.0000) translate(-42.8 -22.7) matrix(0 -1 -1 0 0 0) scale(0.17288 0.22319) translate(-36 34.5)" font-size="100.0" font-weight="bold" fill="#0c0c0c" stroke="#0c0c0c" stroke-width="7" stroke-linejoin="round">N</text>
<text transform="translate(839.58 715.05) rotate(9.3) scale(1.0000 1.0000) translate(42.7 -21.2) matrix(0 -1 -1 0 0 0) scale(0.17288 0.22319) translate(-36 34.5)" font-size="100.0" font-weight="bold" fill="#0c0c0c" stroke="#0c0c0c" stroke-width="7" stroke-linejoin="round">N</text>
<text transform="translate(839.58 715.05) rotate(9.3) scale(1.0000 1.0000) translate(42.3 22.4) matrix(0 -1 -1 0 0 0) scale(0.17864 0.21159) translate(-32.25 34.5)" font-size="100.0" font-weight="bold" fill="#0c0c0c" stroke="#0c0c0c" stroke-width="7" stroke-linejoin="round">L</text>
<text transform="matrix(0.9373 0 0 1 949.9 811.9)" font-size="42.46" fill="#141414" stroke="#141414" stroke-width="0.2" stroke-linejoin="round">4</text>
<g class="ln lm">
<g transform="translate(1006.48 936.78) rotate(23.9) scale(0.6900 0.6900)">
<rect x="-48.04347826086957" y="-37.53623188405797" width="96.08695652173914" height="75.07246376811594" style="stroke-width:1.3" vector-effect="non-scaling-stroke"/>
<rect x="-29.3" y="-30.1" width="58.5" height="18" style="stroke-width:1.2" vector-effect="non-scaling-stroke"/>
<rect x="-29.3" y="-9" width="58.6" height="18.5" style="stroke-width:1.2" vector-effect="non-scaling-stroke"/>
<path d="M-31.5,12.3 L29.4,12.3 L29.4,30.6 L-31.5,30.6" style="stroke-width:1.2" vector-effect="non-scaling-stroke"/>
<circle cx="-11.3" cy="-21" r="8.2" style="fill:#fefefe;stroke-width:1.2" vector-effect="non-scaling-stroke"/>
<circle cx="-11.3" cy="-21" r="4.4" style="stroke-width:1.2" vector-effect="non-scaling-stroke"/>
<circle cx="11.2" cy="-21" r="8.2" style="fill:#fefefe;stroke-width:1.2" vector-effect="non-scaling-stroke"/>
<circle cx="11.2" cy="-21" r="4.4" style="stroke-width:1.2" vector-effect="non-scaling-stroke"/>
<circle cx="-11.3" cy="0.3" r="8.2" style="fill:#fefefe;stroke-width:1.2" vector-effect="non-scaling-stroke"/>
<circle cx="-11.3" cy="0.3" r="4.4" style="stroke-width:1.2" vector-effect="non-scaling-stroke"/>
<circle cx="11.2" cy="0.3" r="8.2" style="fill:#fefefe;stroke-width:1.2" vector-effect="non-scaling-stroke"/>
<circle cx="11.2" cy="0.3" r="4.4" style="stroke-width:1.2" vector-effect="non-scaling-stroke"/>
<circle cx="-11.3" cy="21" r="8.2" style="fill:#fefefe;stroke-width:1.2" vector-effect="non-scaling-stroke"/>
<circle cx="-11.3" cy="21" r="4.4" style="stroke-width:1.2" vector-effect="non-scaling-stroke"/>
<circle cx="11.2" cy="21" r="8.2" style="fill:#fefefe;stroke-width:1.2" vector-effect="non-scaling-stroke"/>
<circle cx="11.2" cy="21" r="4.4" style="stroke-width:1.2" vector-effect="non-scaling-stroke"/>
<circle cx="0" cy="-10.5" r="3.7" style="fill:#fefefe;stroke-width:1.2" vector-effect="non-scaling-stroke"/>
<circle cx="0" cy="10.5" r="3.7" style="fill:#fefefe;stroke-width:1.2" vector-effect="non-scaling-stroke"/>
<circle cx="-37.5" cy="-0.2" r="7.3" style="fill:#fefefe;stroke-width:1.6" vector-effect="non-scaling-stroke"/>
<path d="M-37.5,-7 A7,7 0 0 0 -37.5,6.6 Z" style="fill:#111;stroke:none"/>
<path d="M-37.5,-7.3 L-37.5,7 M-37.5,-0.2 L-30.5,-0.2" style="stroke-width:0.7" vector-effect="non-scaling-stroke"/>
<circle cx="37.5" cy="0.7" r="7.6" style="fill:#0c0c0c;stroke-width:1.0" vector-effect="non-scaling-stroke"/>
</g>
</g>
<text transform="translate(1006.48 936.78) rotate(23.9) scale(0.6900 0.6900) translate(-37.5 -22.7) matrix(0 -1 -1 0 0 0) scale(0.15593 0.18841) translate(-36 34.5)" font-size="100.0" font-weight="bold" fill="#0c0c0c" stroke="#0c0c0c" stroke-width="7" stroke-linejoin="round">N</text>
<text transform="translate(1006.48 936.78) rotate(23.9) scale(0.6900 0.6900) translate(37.5 -21.2) matrix(0 -1 -1 0 0 0) scale(0.15593 0.18841) translate(-36 34.5)" font-size="100.0" font-weight="bold" fill="#0c0c0c" stroke="#0c0c0c" stroke-width="7" stroke-linejoin="round">N</text>
<text transform="translate(1006.48 936.78) rotate(23.9) scale(0.6900 0.6900) translate(37.5 22.4) matrix(0 -1 -1 0 0 0) scale(0.16699 0.18841) translate(-32.25 34.5)" font-size="100.0" font-weight="bold" fill="#0c0c0c" stroke="#0c0c0c" stroke-width="7" stroke-linejoin="round">L</text>
<text transform="translate(1006.48 936.78) rotate(23.9) scale(0.6900 0.6900) translate(-38 21.5) matrix(0 -1 -1 0 0 0) scale(0.15534 0.17391) translate(-32.25 34.5)" font-size="100.0" font-weight="bold" fill="#0c0c0c" stroke="#0c0c0c" stroke-width="7" stroke-linejoin="round">L</text>
<g class="ln lm">
<path d="M1025.5,926.8 C1028.42,928.75 1033.83,932.63 1043,938.5 C1052.17,944.37 1070.93,952.23 1080.5,962 C1090.07,971.77 1095.72,985.4 1100.4,997.1 C1105.08,1008.8 1106.18,1022.38 1108.6,1032.2 C1111.02,1042.02 1112.65,1048.68 1114.9,1056 C1117.15,1063.32 1119,1069.02 1122.1,1076.1 C1125.2,1083.18 1131.6,1094.77 1133.5,1098.5 " style="stroke-width:3.5;stroke:#141414"/>
<path d="M1032.5,949.7 C1035.42,951.17 1042.98,954.5 1050,958.5 C1057.02,962.5 1066,967.27 1074.6,973.7 C1083.2,980.13 1093.78,988.32 1101.6,997.1 C1109.42,1005.88 1117.02,1017.25 1121.5,1026.4 C1125.98,1035.55 1126.8,1045.05 1128.5,1052 C1130.2,1058.95 1130.87,1061.42 1131.7,1068.1 C1132.53,1074.78 1133.2,1088.1 1133.5,1092.1 " style="stroke-width:3.5;stroke:#141414"/>
<path d="M1010.3,957.3 C1014.2,960.03 1025.9,969.02 1033.7,973.7 C1041.5,978.38 1048.32,979.55 1057.1,985.4 C1065.88,991.25 1079.57,1000.02 1086.4,1008.8 C1093.23,1017.58 1094.82,1029.28 1098.1,1038.1 C1101.38,1046.92 1102.77,1054.57 1106.1,1061.7 C1109.43,1068.83 1113.53,1075.03 1118.1,1080.9 C1122.67,1086.77 1130.93,1094.23 1133.5,1096.9 " style="stroke-width:3.5;stroke:#141414"/>
<path d="M1025.5,926.8 C1028.42,928.75 1033.83,932.63 1043,938.5 C1052.17,944.37 1070.93,952.23 1080.5,962 C1090.07,971.77 1095.72,985.4 1100.4,997.1 C1105.08,1008.8 1106.18,1022.38 1108.6,1032.2 C1111.02,1042.02 1112.65,1048.68 1114.9,1056 C1117.15,1063.32 1119,1069.02 1122.1,1076.1 C1125.2,1083.18 1131.6,1094.77 1133.5,1098.5 " style="stroke-width:1.0;stroke:#fefefe"/>
<path d="M1032.5,949.7 C1035.42,951.17 1042.98,954.5 1050,958.5 C1057.02,962.5 1066,967.27 1074.6,973.7 C1083.2,980.13 1093.78,988.32 1101.6,997.1 C1109.42,1005.88 1117.02,1017.25 1121.5,1026.4 C1125.98,1035.55 1126.8,1045.05 1128.5,1052 C1130.2,1058.95 1130.87,1061.42 1131.7,1068.1 C1132.53,1074.78 1133.2,1088.1 1133.5,1092.1 " style="stroke-width:1.0;stroke:#fefefe"/>
<path d="M1010.3,957.3 C1014.2,960.03 1025.9,969.02 1033.7,973.7 C1041.5,978.38 1048.32,979.55 1057.1,985.4 C1065.88,991.25 1079.57,1000.02 1086.4,1008.8 C1093.23,1017.58 1094.82,1029.28 1098.1,1038.1 C1101.38,1046.92 1102.77,1054.57 1106.1,1061.7 C1109.43,1068.83 1113.53,1075.03 1118.1,1080.9 C1122.67,1086.77 1130.93,1094.23 1133.5,1096.9 " style="stroke-width:1.0;stroke:#fefefe"/>
<line x1="1133.5" y1="1056" x2="1133.5" y2="1129.9" style="stroke-width:1.8"/>
<g transform="rotate(22 1059.5 964.5)">
<ellipse cx="1059.5" cy="964.5" rx="14.6" ry="24.3" style="stroke-width:1.7"/>
<ellipse cx="1058.6" cy="964.5" rx="17" ry="25.2" style="stroke-width:1.2"/>
</g>
<path d="M1064.5,962 L1069,966.5 M1073.4,967 Q1071.5,974.5 1066.8,980.6" style="stroke-width:1.2"/>
<path d="M1073.6,966.5 Q1071.5,974.5 1067.2,980.2" style="stroke-width:3.2"/>
<path d="M1073.5,972 Q1070,986 1058.5,997.5" style="stroke-width:1.6"/>
</g>
<g class="ln lm">
<g transform="translate(1098.1 1224.9) rotate(27.5)">
<path d="M0,0 L-4.6,7 L-4.6,120 M0,0 L4.6,6.5 L4.6,120" style="stroke-width:1.4"/>
<path d="M-4.6,9 L-1,23 L4.6,13" style="stroke-width:1.3"/>
<line x1="-4.6" y1="120" x2="4.6" y2="120" style="stroke-width:1.3"/>
<path d="M-4.6,120 C-6,130 -11,138 -13.5,143 M4.6,120 C6,130 10,138 12.5,143" style="stroke-width:1.4"/>
<rect class="wf" x="-16" y="141.5" width="32" height="12"/>
<rect x="-16" y="141.5" width="32" height="12.5" rx="6" style="stroke-width:1.4"/>
<path d="M-9,142 Q-12,148 -9,153.8 M-3,141.6 Q-6,148 -3,154 M3.5,141.6 Q0.5,148 3.5,154 M9.5,142 Q7,148 9.5,153.8" style="stroke-width:1.1"/>
<clipPath id="hclip"><path d="M-17.5,180 C-22.5,198 -23.5,240 -17,268 Q-15,276.5 -8.5,277 L8.5,277 Q15,276.5 17,268 C23.5,240 22.5,198 17.5,180 Z"/></clipPath>
<path d="M-12,154 C-12,165 -15,172 -17.5,180 C-22.5,198 -23.5,240 -17,268 Q-15,276.5 -8.5,277 L8.5,277 Q15,276.5 17,268 C23.5,240 22.5,198 17.5,180 C15,172 12,165 12,154" style="stroke-width:1.4"/>
<g clip-path="url(#hclip)">
<path d="M-26,184.5 Q0,180 26,178" style="stroke-width:0.9"/>
<path d="M-26,191.7 Q0,187.2 26,185.2" style="stroke-width:0.9"/>
<path d="M-26,198.9 Q0,194.4 26,192.4" style="stroke-width:0.9"/>
<path d="M-26,206.1 Q0,201.6 26,199.6" style="stroke-width:0.9"/>
<path d="M-26,213.3 Q0,208.8 26,206.8" style="stroke-width:0.9"/>
<path d="M-26,220.5 Q0,216 26,214" style="stroke-width:0.9"/>
<path d="M-26,227.7 Q0,223.2 26,221.2" style="stroke-width:0.9"/>
<path d="M-26,234.9 Q0,230.4 26,228.4" style="stroke-width:0.9"/>
<path d="M-26,242.1 Q0,237.6 26,235.6" style="stroke-width:0.9"/>
<path d="M-26,249.3 Q0,244.8 26,242.8" style="stroke-width:0.9"/>
<path d="M-26,256.5 Q0,252 26,250" style="stroke-width:0.9"/>
<path d="M-26,263.7 Q0,259.2 26,257.2" style="stroke-width:0.9"/>
<path d="M-26,270.9 Q0,266.4 26,264.4" style="stroke-width:0.9"/>
<path d="M-26,278.1 Q0,273.6 26,271.6" style="stroke-width:0.9"/>
<path d="M-11.6,180 Q-18.12,225 -12.32,278" style="stroke-width:0.9"/>
<path d="M-6.96,180 Q-10.88,225 -7.39,278" style="stroke-width:0.9"/>
<path d="M-2.32,180 Q-3.62,225 -2.46,278" style="stroke-width:0.9"/>
<path d="M2.32,180 Q3.62,225 2.46,278" style="stroke-width:0.9"/>
<path d="M6.96,180 Q10.88,225 7.39,278" style="stroke-width:0.9"/>
<path d="M11.6,180 Q18.12,225 12.32,278" style="stroke-width:0.9"/>
</g>
<line x1="-17.5" y1="180" x2="17.5" y2="180" style="stroke-width:1.0"/>
<path d="M-4.2,-20.5 Q-4,-17 0,-16.6 Q4,-17 4.2,-20.5 Z" style="stroke-width:1;fill:#fefefe"/>
<rect x="-2.6" y="-40" width="5.2" height="19.5" style="stroke-width:0.8;fill:#fefefe"/>
<line x1="-2.6" y1="-38.5" x2="2.6" y2="-38.5" style="stroke-width:0.6"/>
<line x1="-2.6" y1="-36.8" x2="2.6" y2="-36.8" style="stroke-width:0.6"/>
<line x1="-2.6" y1="-35.1" x2="2.6" y2="-35.1" style="stroke-width:0.6"/>
<line x1="-2.6" y1="-33.4" x2="2.6" y2="-33.4" style="stroke-width:0.6"/>
<line x1="-2.6" y1="-31.7" x2="2.6" y2="-31.7" style="stroke-width:0.6"/>
<line x1="-2.6" y1="-30" x2="2.6" y2="-30" style="stroke-width:0.6"/>
<line x1="-2.6" y1="-28.3" x2="2.6" y2="-28.3" style="stroke-width:0.6"/>
<line x1="-2.6" y1="-26.6" x2="2.6" y2="-26.6" style="stroke-width:0.6"/>
<line x1="-2.6" y1="-24.9" x2="2.6" y2="-24.9" style="stroke-width:0.6"/>
<line x1="-2.6" y1="-23.2" x2="2.6" y2="-23.2" style="stroke-width:0.6"/>
<line x1="-2.6" y1="-21.5" x2="2.6" y2="-21.5" style="stroke-width:0.6"/>
<line x1="0" y1="-40" x2="0" y2="-20.5" style="stroke-width:0.6"/>
<line x1="0" y1="-3" x2="0" y2="-16" style="stroke-width:1.2"/>
</g>
<path d="M1081.91,1284.53 A21.6,21.6 0 1 1 1042.92,1284.87" style="stroke-width:2.8"/>
<polygon class="ah" points="1053.3,1266.9 1046.54,1287.01 1039.26,1282.81"/>
<circle cx="1047.2" cy="1227.4" r="22.7" style="stroke-width:1.3"/>
</g>
<text transform="matrix(0.9521 0 0 1 1035.32 1241.18)" font-size="41.57" fill="#141414" stroke="#141414" stroke-width="0.2" stroke-linejoin="round">5</text>
</svg>
</body>
</html>
